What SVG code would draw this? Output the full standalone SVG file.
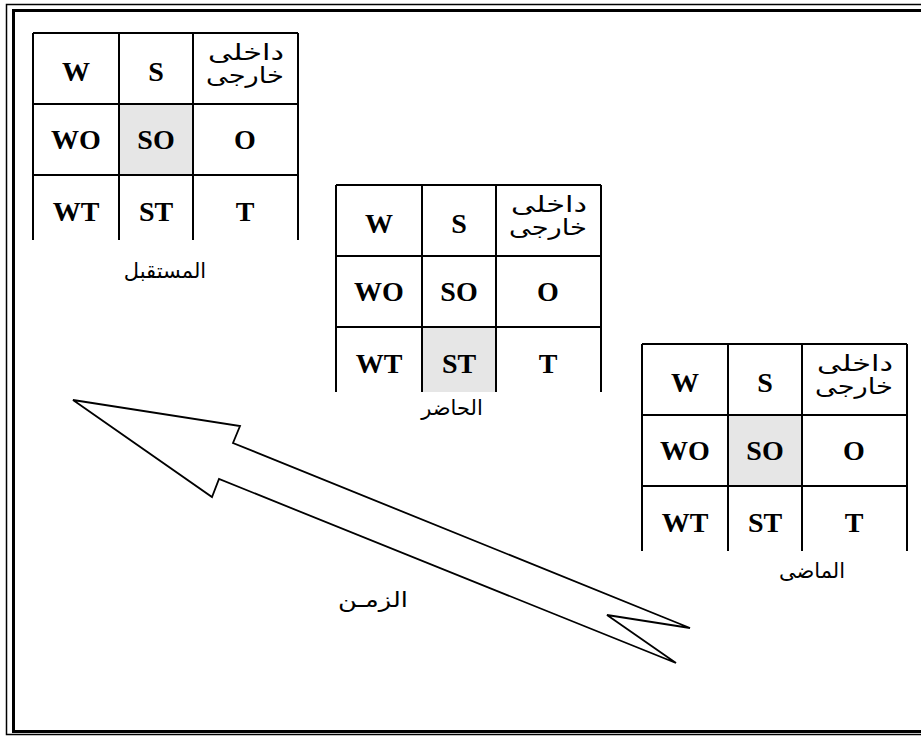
<svg xmlns="http://www.w3.org/2000/svg" width="921" height="736" viewBox="0 0 921 736">
<style>
.grid{fill:none;stroke:#000;stroke-width:2}
.hl{fill:#e6e6e6}
.lat{font-family:"Liberation Serif",serif;font-weight:bold;font-size:28px;text-anchor:middle;fill:#000}
.ar{font-family:"Liberation Sans","DejaVu Sans",sans-serif;font-size:22px;text-anchor:middle;fill:#000}
.lbl{font-family:"Liberation Sans","DejaVu Sans",sans-serif;font-size:21px;text-anchor:middle;fill:#000}
</style>
<defs>
<g id="tbl">
<path class="grid" d="M0 0H265M0 71H265M0 142H265M0 0V207M86 0V207M160 0V207M265 0V207"/>
<text class="lat" x="43" y="48">W</text>
<text class="lat" x="123" y="48">S</text>
<text class="ar" x="213" y="27" textLength="76" lengthAdjust="spacingAndGlyphs">داخلى</text>
<text class="ar" x="212" y="50" textLength="78" lengthAdjust="spacingAndGlyphs">خارجى</text>
<text class="lat" x="43" y="116">WO</text>
<text class="lat" x="123" y="116">SO</text>
<text class="lat" x="212" y="116">O</text>
<text class="lat" x="43" y="188">WT</text>
<text class="lat" x="123" y="188">ST</text>
<text class="lat" x="212" y="188">T</text>
</g>
</defs>
<rect width="921" height="736" fill="#fff"/>
<g id="frame" fill="none" stroke="#000">
<path d="M921 4.5H6.5V734.5H921" stroke-width="1.5"/>
<path d="M921 10.5H13.5V731.5H921" stroke-width="3"/>
</g>
<g id="future" transform="translate(33,33)">
<rect class="hl" x="86" y="71" width="74" height="71"/>
<use href="#tbl"/>
<text class="lbl" x="132" y="245">المستقبل</text>
</g>
<g id="present" transform="translate(336,185)">
<rect class="hl" x="86" y="142" width="74" height="65"/>
<use href="#tbl"/>
<text class="lbl" x="116" y="230">الحاضر</text>
</g>
<g id="past" transform="translate(642,344)">
<rect class="hl" x="86" y="71" width="74" height="71"/>
<use href="#tbl"/>
<text class="lbl" x="170" y="234">الماضى</text>
</g>
<g id="connectors">
<polygon points="73,400 240,426 233,443 690,628 607,615 676,663 219,479 212,497" fill="#fff" stroke="#000" stroke-width="1.8" stroke-linejoin="miter"/>
<text class="lbl" x="373" y="607" textLength="70" lengthAdjust="spacingAndGlyphs">الزمـن</text>
</g>
</svg>
